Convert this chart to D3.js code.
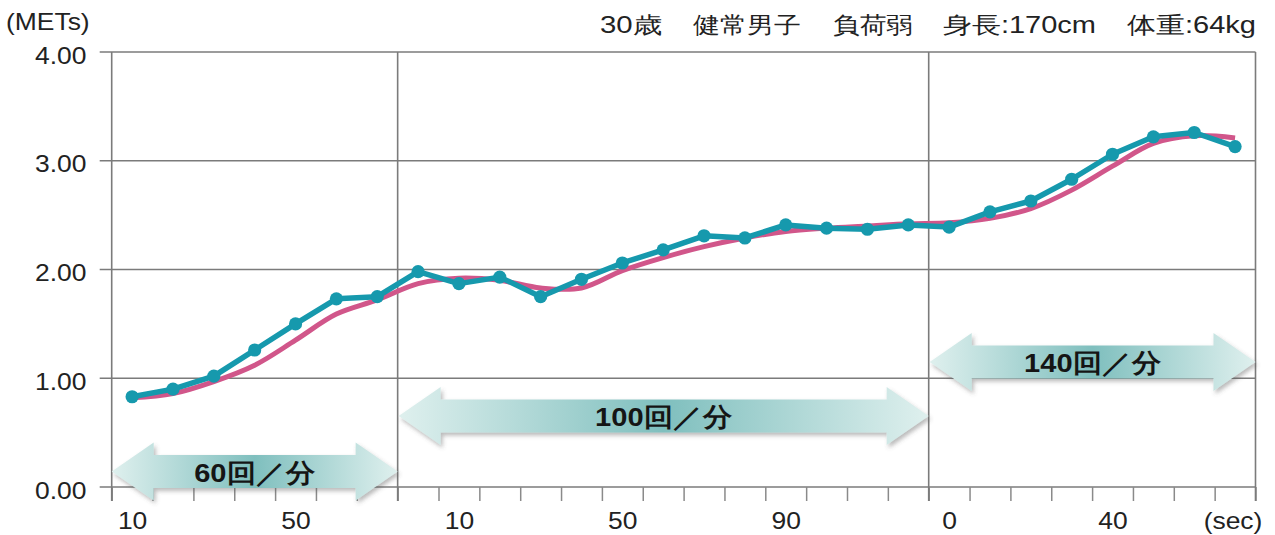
<!DOCTYPE html>
<html>
<head>
<meta charset="utf-8">
<script src="https://cdn.jsdelivr.net/npm/d3@7"></script>
<style>
  body { margin: 0; background: #fff; }
  text { font-family: "Liberation Sans", Arial, sans-serif; }
</style>
</head>
<body>
<svg id="chart"></svg>
<script>
// sections of the test: number of 10-second slots in each
const sectionSlots = [7, 13, 8];
// measured METs, one per 10 s slot
const metsMeasured = [
    0.83, 0.90, 1.02, 1.26, 1.50, 1.73, 1.75,
    1.98, 1.87, 1.93, 1.75, 1.91, 2.06, 2.18, 2.31, 2.29, 2.41, 2.38, 2.37, 2.41,
    2.39, 2.53, 2.63, 2.83, 3.06, 3.22, 3.26, 3.13
];
// smoothed trend
const metsTrend = [
    0.82, 0.86, 0.97, 1.12, 1.35, 1.59, 1.72,
    1.87, 1.92, 1.90, 1.83, 1.83, 1.99, 2.11, 2.21, 2.29, 2.35, 2.38, 2.40, 2.42,
    2.43, 2.47, 2.56, 2.73, 2.95, 3.16, 3.23, 3.21
];
const xLabelSlots = [0, 4, 8, 12, 16, 20, 24];
const xTickLabels = ["10", "50", "10", "50", "90", "0", "40"];
const yTicks = [0, 1, 2, 3, 4];
const rateLabels = ["60回／分", "100回／分", "140回／分"];
const titleParts = ["30歳", "健常男子", "負荷弱", "身長:170cm", "体重:64kg"];

const W = 1275, H = 535;
const nSlots = d3.sum(sectionSlots);
const bounds = Array.from(d3.cumsum([0, ...sectionSlots]));

const svg = d3.select("#chart").attr("width", W).attr("height", H);

const x = d3.scaleLinear().domain([0, nSlots]).range([111.7, 1255.5]);
const y = d3.scaleLinear().domain([0, 4]).range([487, 52]);

const gridColor = "#7b7b7b";
const stretch = "scale(1.15,1)";

// defs: arrow gradient + shadow
const defs = svg.append("defs");
const grad = defs.append("linearGradient").attr("id", "arrowGrad")
    .attr("x1", 0).attr("x2", 1).attr("y1", 0).attr("y2", 0);
grad.append("stop").attr("offset", 0).attr("stop-color", "#dff0ee");
grad.append("stop").attr("offset", 0.5).attr("stop-color", "#7fbfbe");
grad.append("stop").attr("offset", 1).attr("stop-color", "#dff0ee");
const shadow = defs.append("filter").attr("id", "shadow")
    .attr("x", "-10%").attr("y", "-30%").attr("width", "120%").attr("height", "160%");
shadow.append("feDropShadow").attr("dx", 2).attr("dy", 3).attr("stdDeviation", 2)
    .attr("flood-color", "#555").attr("flood-opacity", 0.4);

// horizontal gridlines
svg.append("g").selectAll("line").data(yTicks).join("line")
    .attr("x1", x(0) - 12).attr("x2", x(nSlots))
    .attr("y1", d => y(d)).attr("y2", d => y(d))
    .attr("stroke", gridColor).attr("stroke-width", 1.6);

// x tick marks
const xTicks = svg.append("g").attr("transform", `translate(0,${y(0)})`)
    .call(d3.axisBottom(x).tickValues(d3.range(nSlots + 1)).tickSize(14).tickFormat(""));
xTicks.select(".domain").remove();
xTicks.selectAll("line").attr("stroke", "#8a8a8a").attr("stroke-width", 1.5);

// vertical section lines
svg.append("g").selectAll("line").data(bounds).join("line")
    .attr("x1", d => x(d)).attr("x2", d => x(d))
    .attr("y1", y(4)).attr("y2", y(0) + 14)
    .attr("stroke", gridColor).attr("stroke-width", 1.6);

// x labels
const xLab = svg.append("g").attr("transform", `translate(0,${y(0)})`)
    .call(d3.axisBottom(x).tickValues(xLabelSlots.map(s => s + 0.5))
        .tickSize(0).tickPadding(26).tickFormat((d, i) => xTickLabels[i]));
xLab.select(".domain").remove();
xLab.selectAll("text").attr("font-size", 23).attr("fill", "#222")
    .attr("font-family", "Liberation Sans, Arial, sans-serif").attr("transform", stretch);

svg.append("text").attr("transform", `translate(1233,529) ${stretch}`)
    .attr("text-anchor", "middle").attr("font-size", 23).attr("fill", "#222").text("(sec)");

// y labels
const yLab = svg.append("g").attr("transform", `translate(${x(0)},0)`)
    .call(d3.axisLeft(y).tickValues(yTicks).tickSize(0).tickPadding(22).tickFormat(d3.format(".2f")));
yLab.select(".domain").remove();
yLab.selectAll("text").attr("font-size", 23).attr("fill", "#222").attr("dy", "0.48em")
    .attr("font-family", "Liberation Sans, Arial, sans-serif").attr("transform", stretch);

svg.append("text").attr("transform", `translate(6,30) ${stretch}`)
    .attr("font-size", 23).attr("fill", "#222").text("(METs)");

// title
const titleX = [600, 693, 833, 943, 1127];
const titleW = [62, 108, 80, 153, 129];
svg.append("g").selectAll("text").data(titleParts).join("text")
    .attr("x", (d, i) => titleX[i]).attr("y", 33)
    .attr("textLength", (d, i) => titleW[i]).attr("lengthAdjust", "spacingAndGlyphs")
    .attr("font-family", "Noto Sans CJK JP").attr("font-size", 23).attr("fill", "#222")
    .text(d => d);

// rate arrows
const arrowCy = [471.5, 416, 362];
const hl = 42, hh = 29, bh = 16.5;
rateLabels.forEach((label, i) => {
    const x0 = x(bounds[i]) + (i > 0 ? 1 : 0), x1 = x(bounds[i + 1]), cy = arrowCy[i];
    const p = d3.path();
    p.moveTo(x0, cy);
    p.lineTo(x0 + hl, cy - hh); p.lineTo(x0 + hl, cy - bh);
    p.lineTo(x1 - hl, cy - bh); p.lineTo(x1 - hl, cy - hh);
    p.lineTo(x1, cy);
    p.lineTo(x1 - hl, cy + hh); p.lineTo(x1 - hl, cy + bh);
    p.lineTo(x0 + hl, cy + bh); p.lineTo(x0 + hl, cy + hh);
    p.closePath();
    svg.append("path").attr("d", p.toString())
        .attr("fill", "url(#arrowGrad)").attr("filter", "url(#shadow)");
    svg.append("text").attr("transform", `translate(${(x0 + x1) / 2},${cy + 10}) scale(1.12,1)`)
        .attr("text-anchor", "middle").attr("font-family", "Noto Sans CJK JP")
        .attr("font-weight", 900).attr("font-size", 26).attr("fill", "#151515")
        .text(label);
});

// trend line
const cx = (d, i) => x(i + 0.5);
svg.append("path").datum(metsTrend)
    .attr("d", d3.line().x(cx).y(d => y(d)).curve(d3.curveCatmullRom.alpha(0.5)))
    .attr("fill", "none").attr("stroke", "#d1568a").attr("stroke-width", 5);

// measured line + dots
const teal = "#1699ad";
svg.append("path").datum(metsMeasured)
    .attr("d", d3.line().x(cx).y(d => y(d)))
    .attr("fill", "none").attr("stroke", teal).attr("stroke-width", 5.5)
    .attr("stroke-linejoin", "round");
svg.append("g").selectAll("circle").data(metsMeasured).join("circle")
    .attr("cx", cx).attr("cy", d => y(d)).attr("r", 6.6).attr("fill", teal);
</script>
</body>
</html>
